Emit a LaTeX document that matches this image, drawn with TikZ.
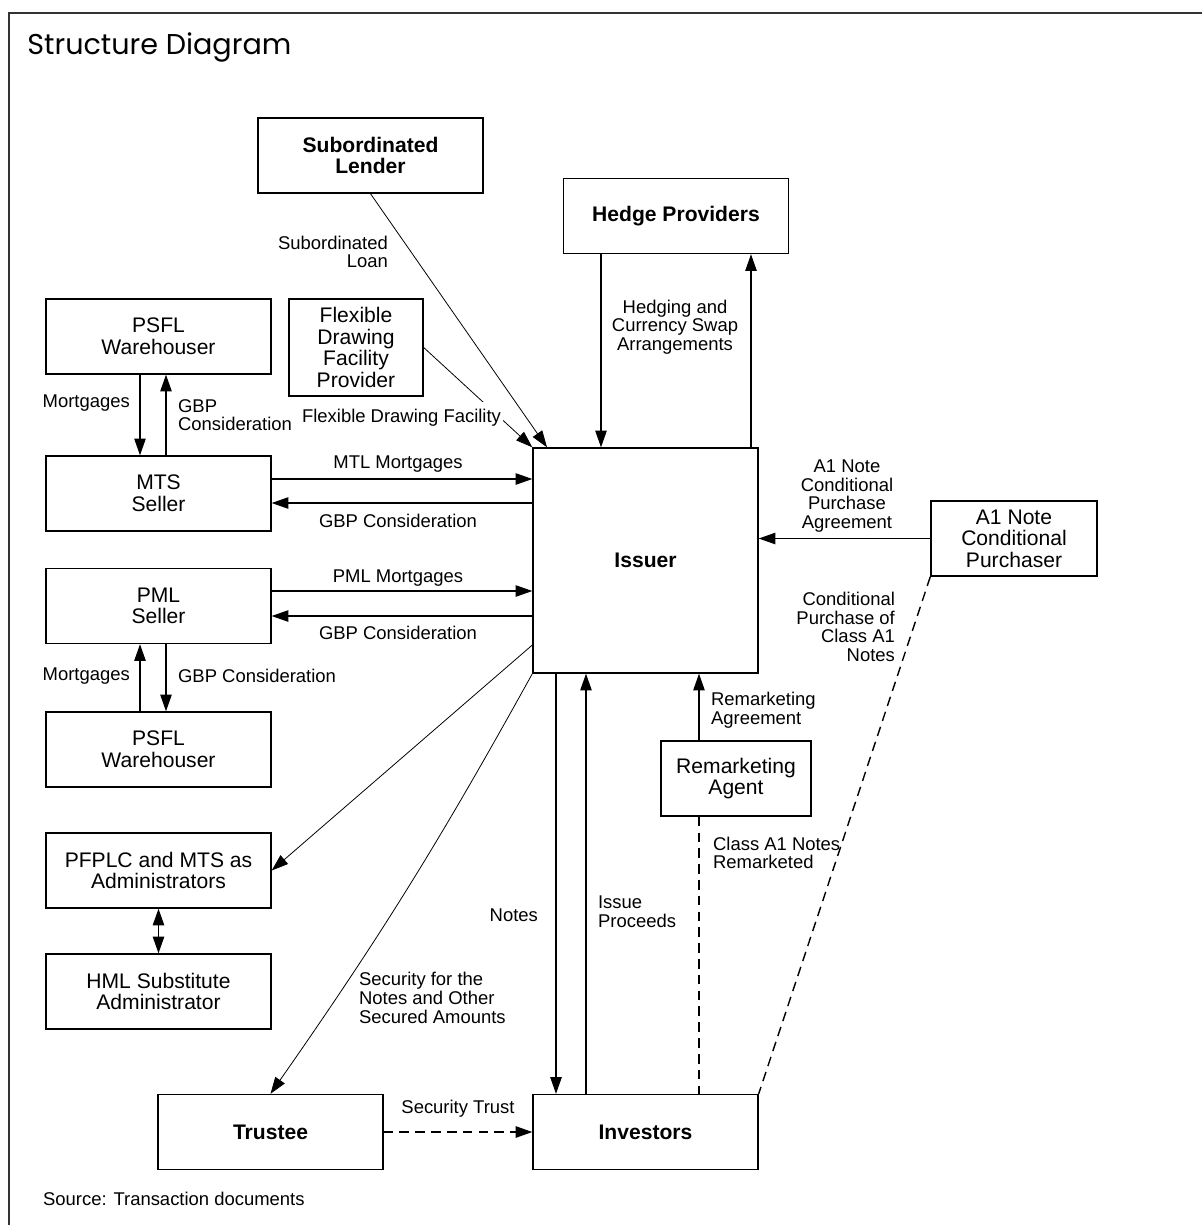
\documentclass[tikz,border=0pt]{standalone}
\usepackage{fontspec}
\setmainfont{Liberation Sans}
\newfontfamily\titulo{Poppins}
\usetikzlibrary{arrows.meta}
\tikzset{
	caja/.style={draw, fill=white, line width=0.8pt, align=center, inner sep=2pt,
		minimum width=4.5cm, minimum height=1.5cm, font=\fontsize{12}{12.3}\selectfont},
	cajan/.style={caja, font=\fontsize{12}{12.3}\selectfont\bfseries},
	etiq/.style={inner sep=1pt, font=\fontsize{10.5}{10.6}\selectfont},
	flecha/.style={line width=0.7pt, -{Triangle[length=9.5pt,width=6.5pt]}},
	fina/.style={flecha, line width=0.45pt},
	trazos/.style={line width=0.8pt, dash pattern=on 5.5pt off 3.5pt},
}
\begin{document}
\begin{tikzpicture}[x=0.02cm, y=-0.02cm]
	\useasboundingbox (0,0) rectangle (1202,1225);
	% Marco
		\draw[line width=1pt, black!80] (1202,13) -- (9,13) -- (9,1225);
		\node[anchor=west, inner sep=0pt, font=\titulo\fontsize{16.3}{16.3}\selectfont] (titulo) at (27,47) {Structure Diagram};
	% Etiqueta tapada por la caja
		\node[etiq, anchor=west, align=left] (gbpA) at (176,415) {GBP\\Consideration};
	% Cajas
		\node[cajan] (sublender) at (370.5,155.5) {Subordinated\\Lender};
		\node[cajan] (hedge) at (676,216) {Hedge Providers};
		\node[caja] (psflA) at (158.5,336.5) {PSFL\\Warehouser};
		\node[caja, minimum width=2.68cm, minimum height=1.94cm] (fdf) at (356,347.5) {Flexible\\Drawing\\Facility\\Provider};
		\node[caja] (mts) at (158.5,493.5) {MTS\\Seller};
		\node[caja] (pml) at (158.5,606) {PML\\Seller};
		\node[caja] (psflB) at (158.5,749.5) {PSFL\\Warehouser};
		\node[caja] (admin) at (158.5,870.5) {PFPLC and MTS as\\Administrators};
		\node[caja] (hml) at (158.5,991.5) {HML Substitute\\Administrator};
		\node[cajan, minimum height=4.5cm] (issuer) at (645.5,560.5) {Issuer};
		\node[caja, minimum width=3.32cm] (a1p) at (1014,538.5) {A1 Note\\Conditional\\Purchaser};
		\node[caja, minimum width=3cm] (remag) at (736,778.5) {Remarketing\\Agent};
		\node[cajan] (trustee) at (270.5,1132) {Trustee};
		\node[cajan] (investors) at (645.5,1132) {Investors};
	% Flechas
		\draw[fina] (sublender.south) -- (547,0 |- issuer.north);
		\draw[fina] (fdf.east) -- (issuer.north west);
		\draw[flecha] (601,0 |- hedge.south) -- (601,0 |- issuer.north);
		\draw[flecha] (751,0 |- issuer.north) -- (751,0 |- hedge.south);
		\draw[flecha] (140,0 |- psflA.south) -- (140,0 |- mts.north);
		\draw[flecha] (166,0 |- mts.north) -- (166,0 |- psflA.south);
		\draw[flecha] (mts.east |- 0,479) -- (issuer.west |- 0,479);
		\draw[flecha] (issuer.west |- 0,503) -- (mts.east |- 0,503);
		\draw[flecha] (pml.east |- 0,591) -- (issuer.west |- 0,591);
		\draw[flecha] (issuer.west |- 0,616) -- (pml.east |- 0,616);
		\draw[flecha] (140,0 |- psflB.north) -- (140,0 |- pml.south);
		\draw[flecha] (166,0 |- pml.south) -- (166,0 |- psflB.north);
		\draw[fina] (issuer.west |- 0,645) -- (admin.east);
		\draw[fina] (issuer.south west) to[bend left=3] (trustee.north);
		\draw[flecha, {Triangle[length=9.5pt,width=6.5pt]}-{Triangle[length=9.5pt,width=6.5pt]}] (admin.south) -- (hml.north);
		\draw[flecha] (556,0 |- issuer.south) -- (556,0 |- investors.north);
		\draw[flecha] (586,0 |- investors.north) -- (586,0 |- issuer.south);
		\draw[flecha] (699,0 |- remag.north) -- (699,0 |- issuer.south);
		\draw[trazos] (699,0 |- remag.south) -- (699,0 |- investors.north);
		\draw[flecha] (a1p.west) -- (issuer.east |- a1p.west);
		\draw[trazos] (a1p.south west) -- (investors.north east);
		\draw[flecha, trazos] (trustee.east) -- (investors.west);
	% Etiquetas
		\node[etiq, anchor=east, align=right] (subloan) at (390,252) {Subordinated\\Loan};
		\node[etiq, fill=white, inner ysep=4pt] (fdfl) at (401.5,418) {Flexible Drawing Facility};
		\node[etiq, align=center] (hedgel) at (675,327) {Hedging and\\Currency Swap\\Arrangements};
		\node[etiq, anchor=east] (mortA) at (132,403) {Mortgages};
		\node[etiq] (mtll) at (398,464) {MTL Mortgages};
		\node[etiq] (gbpB) at (398,521) {GBP Consideration};
		\node[etiq] (pmll) at (398,578) {PML Mortgages};
		\node[etiq] (gbpC) at (398,633) {GBP Consideration};
		\node[etiq, anchor=east] (mortB) at (132,676) {Mortgages};
		\node[etiq, anchor=west] (gbpD) at (176,676) {GBP Consideration};
		\node[etiq, align=center] (a1l) at (847,496) {A1 Note\\Conditional\\Purchase\\Agreement};
		\node[etiq, anchor=east, align=right] (condl) at (897,627) {Conditional\\Purchase of\\Class A1\\Notes};
		\node[etiq, anchor=west, align=left] (remagl) at (709,710) {Remarketing\\Agreement};
		\node[etiq, anchor=west, align=left] (classl) at (711,853) {Class A1 Notes\\Remarketed};
		\node[etiq, anchor=west, align=left] (procl) at (596,912) {Issue\\Proceeds};
		\node[etiq, anchor=east] (notesl) at (540,915) {Notes};
		\node[etiq, anchor=west, align=left] (secl) at (357,998) {Security for the\\Notes and Other\\Secured Amounts};
		\node[etiq] (trustl) at (458,1109) {Security Trust};
		\node[etiq, anchor=west] (fuente) at (41,1199) {Source: Transaction documents};
\end{tikzpicture}
\end{document}
